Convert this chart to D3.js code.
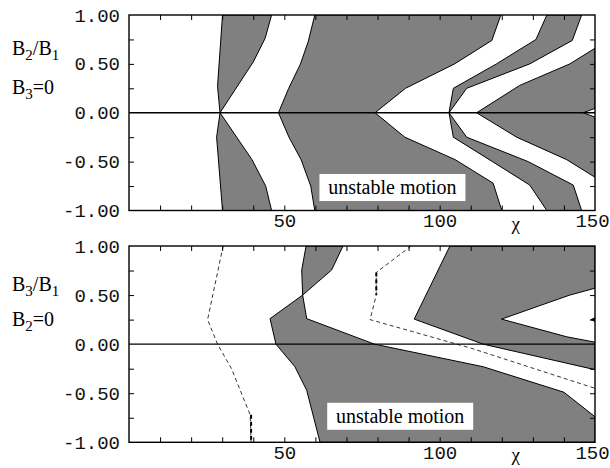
<!DOCTYPE html>
<html>
<head>
<meta charset="utf-8">
<script src="https://cdn.jsdelivr.net/npm/d3@7"></script>
<style>
  body { margin: 0; background: #fff; }
  svg { display: block; }
  .tick text { font-family: "Liberation Mono", "Courier New", monospace; font-size: 19px; fill: #111; }
  .serif { font-family: "Liberation Serif", "Times New Roman", serif; fill: #000; }
</style>
</head>
<body>
<svg id="chart" width="610" height="468"></svg>
<script>
// ------------------------------------------------------------------
// data : boundary curves as [chi, B] pairs
// ------------------------------------------------------------------

// upper panel (B2/B1, B3=0)
const topA = [[30.1,-1],[28.2,-0.25],[29.3,0],[28.5,0.27],[30.1,1]];
const topB = [[45.9,-1],[44,-0.75],[39.6,-0.48],[29.3,0],[40,0.52],[43.8,0.76],[45.9,1]];
const topC = [[59.8,-1],[58.5,-0.75],[55.4,-0.48],[51.5,-0.25],[48.1,0],[51.4,0.25],[55.2,0.5],[57.7,0.73],[59.8,1]];
const topD = [[120,-1],[117.2,-0.72],[105,-0.48],[88.8,-0.25],[79.2,0],[89,0.25],[104.8,0.5],[116.8,0.74],[119.7,1]];
const topE = [[134.5,-1],[129,-0.74],[117,-0.5],[104.4,-0.25],[103,0],[104.4,0.25],[118.3,0.5],[131,0.75],[134.5,1]];
const topF = [[145.7,-1],[143,-0.74],[128.5,-0.5],[108.7,-0.25],[103,0],[108.7,0.25],[129,0.5],[142.7,0.74],[145.7,1]];
const topG = [[150,-0.66],[140.9,-0.48],[124.8,-0.25],[111.9,0],[125.8,0.28],[141.9,0.5],[150,0.66]];
const topNotch = [[150,0.045],[146.2,0],[150,-0.045]];

// lower panel (B3/B1, B2=0)
const botQ = [[68.9,1],[65.2,0.755],[55.9,0.5],[45.4,0.26],[47.3,0],[53.4,-0.23],[57.2,-0.47],[61.5,-1]];
const botP = [[57,1],[55.6,0.755],[55.9,0.5],[57.2,0.26],[79,0],[114,-0.23],[140,-0.49],[150,-0.74]];
const botR = [[103.3,1],[91.8,0.255],[114,0],[150,-0.26]];
const botWedge = [[150,0.02],[140.9,0.075],[119.9,0.255],[141.9,0.5],[150,0.57]];
const botArrow = [[148.4,0.25],[150,0.275],[150,0.225]];
const botDash1 = [[30.3,1],[25.3,0.25],[28.5,0],[33,-0.25],[39,-0.72],[39.3,-1]];
const botDash2 = [[90.8,1],[79.6,0.73],[79.6,0.5],[77.6,0.25],[110,-0.04],[150,-0.45]];
const botBold1 = [[39.3,-0.72],[39.3,-1]];
const botBold2 = [[79.6,0.73],[79.6,0.5]];

// ticks
const chiTicks = d3.range(10, 150, 10);
const chiLabels = [50, 100, 150];
const bTicks = [-0.75, -0.5, -0.25, 0.25, 0.5, 0.75];
const bLabels = [-1, -0.5, 0, 0.5, 1];

// ------------------------------------------------------------------
// layout
// ------------------------------------------------------------------
const svg = d3.select("#chart");
const x = d3.scaleLinear().domain([0, 150]).range([129, 595]);
const yTop = d3.scaleLinear().domain([-1, 1]).range([210.5, 15]);
const yBot = d3.scaleLinear().domain([-1, 1]).range([442.3, 246]);

const rev = a => a.slice().reverse();

const topRegions = [
  topA.concat(rev(topB)),
  topC.concat(rev(topD)),
  topE.concat(rev(topF)),
  topG.concat(topNotch)
];
const botRegions = [
  botP.slice(0, 3).concat(rev(botQ.slice(0, 2))),
  botQ.slice(2).concat([[150, -1]], rev(botP.slice(2))),
  botR.concat(botWedge, [[150, 1]])
];

// ------------------------------------------------------------------
// draw one panel
// ------------------------------------------------------------------
function panel(id, y, regions, dashes, bolds, extras, label)
{
  const line = d3.line().x(d => x(d[0])).y(d => y(d[1]));

  svg.append("clipPath").attr("id", id)
    .append("rect")
      .attr("x", x(0)).attr("y", y(1))
      .attr("width", x(150) - x(0)).attr("height", y(-1) - y(1));

  const g = svg.append("g").attr("clip-path", "url(#" + id + ")");

  // unstable regions
  g.selectAll(".region")
    .data(regions)
    .enter().append("path")
      .attr("class", "region")
      .attr("d", d => line(d) + "Z")
      .attr("fill", "#808080")
      .attr("stroke", "#000")
      .attr("stroke-width", 1)
      .attr("stroke-linejoin", "miter");

  g.selectAll(".extra")
    .data(extras)
    .enter().append("path")
      .attr("d", d => line(d) + "Z")
      .attr("fill", "#000");

  // dashed curves
  g.selectAll(".dash")
    .data(dashes)
    .enter().append("path")
      .attr("d", line)
      .attr("fill", "none")
      .attr("stroke", "#000")
      .attr("stroke-width", 0.8)
      .attr("stroke-dasharray", "4,3");

  g.selectAll(".bold")
    .data(bolds)
    .enter().append("path")
      .attr("d", line)
      .attr("fill", "none")
      .attr("stroke", "#000")
      .attr("stroke-width", 2)
      .attr("stroke-dasharray", "4,3");

  // zero line
  g.append("line")
    .attr("x1", x(0)).attr("x2", x(150))
    .attr("y1", y(0)).attr("y2", y(0))
    .attr("stroke", "#000").attr("stroke-width", 1.4);

  // "unstable motion" box
  const bx = x(label.chi), by = y(label.b);
  svg.append("rect")
    .attr("x", bx - 73).attr("y", by - 13.5)
    .attr("width", 146).attr("height", 27)
    .attr("fill", "#fff");
  svg.append("text")
    .attr("class", "serif")
    .attr("x", bx).attr("y", by + 6.5)
    .attr("text-anchor", "middle")
    .style("font-size", "20px")
    .text("unstable motion");

  // inward ticks on all four sides
  const tk = function(sel) { sel.select(".domain").remove(); sel.selectAll("line").attr("stroke-width", 1); };
  svg.append("g").attr("transform", "translate(0," + y(1) + ")")
    .call(d3.axisTop(x).tickValues(chiTicks).tickSize(-5).tickFormat("")).call(tk);
  svg.append("g").attr("transform", "translate(0," + y(-1) + ")")
    .call(d3.axisBottom(x).tickValues(chiTicks).tickSize(-5).tickFormat("")).call(tk);
  svg.append("g").attr("transform", "translate(" + x(0) + ",0)")
    .call(d3.axisLeft(y).tickValues(bTicks).tickSize(-5).tickFormat("")).call(tk);
  svg.append("g").attr("transform", "translate(" + x(150) + ",0)")
    .call(d3.axisRight(y).tickValues(bTicks).tickSize(-5).tickFormat("")).call(tk);

  // tick labels
  svg.append("g").attr("transform", "translate(" + x(0) + ",0)")
    .call(d3.axisLeft(y).tickValues(bLabels).tickSize(0).tickPadding(9)
      .tickFormat(d => d.toFixed(2)))
    .call(sel => sel.select(".domain").remove());
  svg.append("g").attr("transform", "translate(0," + y(-1) + ")")
    .call(d3.axisBottom(x).tickValues(chiLabels).tickSize(0).tickPadding(3))
    .call(sel => sel.select(".domain").remove())
    .call(sel => sel.selectAll(".tick text").filter(d => d === 150).attr("dx", -3));

  // frame
  svg.append("rect")
    .attr("x", x(0)).attr("y", y(1))
    .attr("width", x(150) - x(0)).attr("height", y(-1) - y(1))
    .attr("fill", "none").attr("stroke", "#000").attr("stroke-width", 1.4);

  // chi label
  svg.append("text")
    .attr("class", "serif")
    .attr("x", x(124.5)).attr("y", y(-1) + 19)
    .attr("text-anchor", "middle")
    .style("font-size", "19px")
    .text("\u03c7");
}

panel("clipTop", yTop, topRegions, [], [], [], {chi: 84.8, b: -0.765});
panel("clipBot", yBot, botRegions, [botDash1, botDash2], [botBold1, botBold2], [botArrow], {chi: 87.3, b: -0.735});

// ------------------------------------------------------------------
// side labels
// ------------------------------------------------------------------
function sideLabel(yPos, parts)
{
  const t = svg.append("text")
    .attr("class", "serif")
    .attr("x", 12).attr("y", yPos)
    .style("font-size", "20px");
  parts.forEach(function(p) {
    const s = t.append("tspan").text(p[0]);
    if (p[1]) s.attr("dy", 5).style("font-size", "15px");
    if (p[2]) s.attr("dy", -5);
  });
}

sideLabel(55, [["B"], ["2", 1], ["/B", 0, 1], ["1", 1]]);
sideLabel(94, [["B"], ["3", 1], ["=0", 0, 1]]);
sideLabel(291, [["B"], ["3", 1], ["/B", 0, 1], ["1", 1]]);
sideLabel(326, [["B"], ["2", 1], ["=0", 0, 1]]);
</script>
</body>
</html>
